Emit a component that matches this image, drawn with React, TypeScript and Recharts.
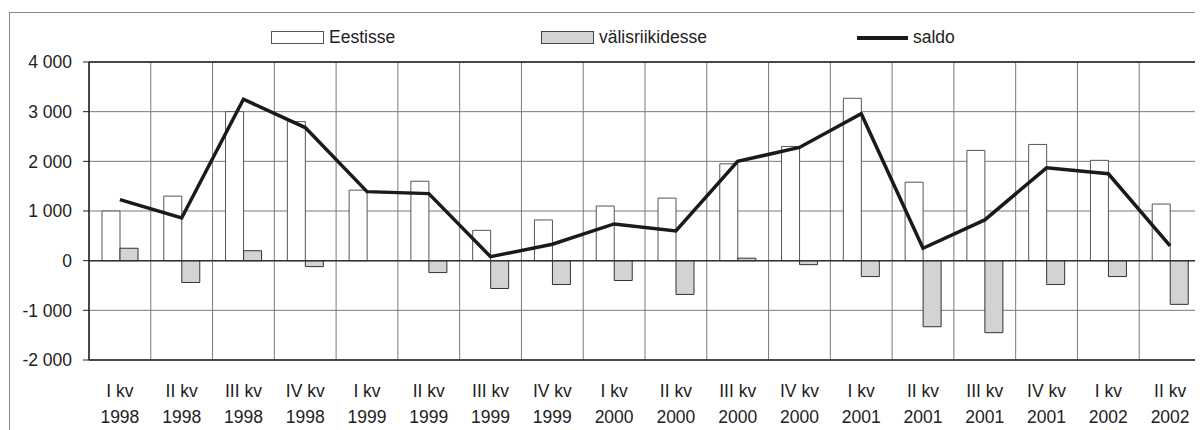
import {
  ComposedChart,
  Bar,
  Line,
  XAxis,
  YAxis,
  CartesianGrid,
  ReferenceLine,
  Legend,
} from "recharts"

const quarters = ["I kv", "II kv", "III kv", "IV kv", "I kv", "II kv", "III kv", "IV kv", "I kv", "II kv", "III kv", "IV kv", "I kv", "II kv", "III kv", "IV kv", "I kv", "II kv"]
const years = ["1998", "1998", "1998", "1998", "1999", "1999", "1999", "1999", "2000", "2000", "2000", "2000", "2001", "2001", "2001", "2001", "2002", "2002"]

const eestisse = [1000, 1300, 3000, 2800, 1420, 1600, 610, 820, 1100, 1260, 1950, 2300, 3270, 1580, 2220, 2340, 2020, 1140]
const valisriikidesse = [250, -440, 200, -120, 0, -240, -560, -480, -400, -680, 50, -80, -320, -1330, -1450, -480, -320, -880]
const saldo = [1230, 860, 3250, 2680, 1390, 1350, 80, 330, 740, 600, 2000, 2280, 2960, 250, 820, 1870, 1750, 300]

const yTicks = [-2000, -1000, 0, 1000, 2000, 3000, 4000]

const data = quarters.map((q, i) => ({
  label: q + "|" + years[i],
  eestisse: eestisse[i],
  valis: valisriikidesse[i],
  saldo: saldo[i],
}))

const FONT = '"Liberation Sans", Arial, sans-serif'
const TEXT = "#222"

// "4 000" style thousands
function fmt(v: number) {
  const s = String(Math.abs(v)).replace(/\B(?=(\d{3})+(?!\d))/g, " ")
  return (v < 0 ? "-" : "") + s
}

function XTick(props: any) {
  const { x, y, payload } = props
  const [q, yr] = String(payload.value).split("|")
  return (
    <text x={x} y={y} textAnchor="middle" fill={TEXT} fontSize={17.5} fontFamily={FONT}>
      <tspan x={x} dy={37}>{q}</tspan>
      <tspan x={x} dy={26}>{yr}</tspan>
    </text>
  )
}

function LegendBox() {
  const item = { position: "absolute" as const, top: 0, display: "flex", alignItems: "center", fontSize: 17.5, color: TEXT, fontFamily: FONT, whiteSpace: "nowrap" as const }
  return (
    <div style={{ position: "relative", height: 22 }}>
      <div style={{ ...item, left: 261 }}>
        <span style={{ width: 51, height: 11, border: "1px solid #555", background: "#fff", marginRight: 5 }} />
        Eestisse
      </div>
      <div style={{ ...item, left: 531 }}>
        <span style={{ width: 51, height: 11, border: "1px solid #444", background: "#d3d3d3", marginRight: 5 }} />
        välisriikidesse
      </div>
      <div style={{ ...item, left: 847 }}>
        <span style={{ width: 51, height: 4, background: "#1a1a1a", marginRight: 5 }} />
        saldo
      </div>
    </div>
  )
}

export default function App() {
  return (
    <div style={{ margin: "4px 0 0 1px", border: "1px solid #8a8a8a", width: 1210, height: 430, background: "#fff" }}>
      <ComposedChart
        width={1192}
        height={417}
        data={data}
        margin={{ top: 27, right: 1, bottom: 10, left: 0 }}
        barGap={0}
      >
        <CartesianGrid
          stroke="#7a7a7a"
          strokeWidth={1}
          verticalCoordinatesGenerator={({ offset }: any) =>
            Array.from({ length: data.length + 1 }, (_, i) => offset.left + (i * offset.width) / data.length)
          }
        />
        <XAxis
          dataKey="label"
          axisLine={false}
          tickLine={false}
          tickSize={0}
          tickMargin={0}
          height={60}
          interval={0}
          tick={<XTick />}
        />
        <YAxis
          domain={[-2000, 4000]}
          ticks={yTicks}
          width={79}
          tickFormatter={fmt}
          axisLine={{ stroke: "#222", strokeWidth: 1.5 }}
          tickLine={{ stroke: "#222" }}
          tickSize={6}
          tickMargin={11}
          tick={{ fill: TEXT, fontSize: 17.5, fontFamily: FONT }}
        />
        <YAxis
          yAxisId="frame"
          orientation="right"
          domain={[-2000, 4000]}
          width={0}
          tick={false}
          tickLine={false}
          axisLine={{ stroke: "#222", strokeWidth: 1.5 }}
        />
        <Legend verticalAlign="top" align="left" wrapperStyle={{ top: 14, left: 0, width: "100%" }} content={() => <LegendBox />} />
        <ReferenceLine y={4000} stroke="#222" strokeWidth={1.5} />
        <ReferenceLine y={-2000} stroke="#222" strokeWidth={1.5} />
        <Bar dataKey="eestisse" name="Eestisse" fill="#fff" stroke="#555" strokeWidth={1} barSize={18} isAnimationActive={false} />
        <Bar dataKey="valis" name="välisriikidesse" fill="#d3d3d3" stroke="#333" strokeWidth={1} barSize={18} isAnimationActive={false} />
        <ReferenceLine y={0} stroke="#333" strokeWidth={1.5} />
        <Line dataKey="saldo" name="saldo" stroke="#1a1a1a" strokeWidth={3.5} dot={false} type="linear" isAnimationActive={false} />
      </ComposedChart>
    </div>
  )
}
